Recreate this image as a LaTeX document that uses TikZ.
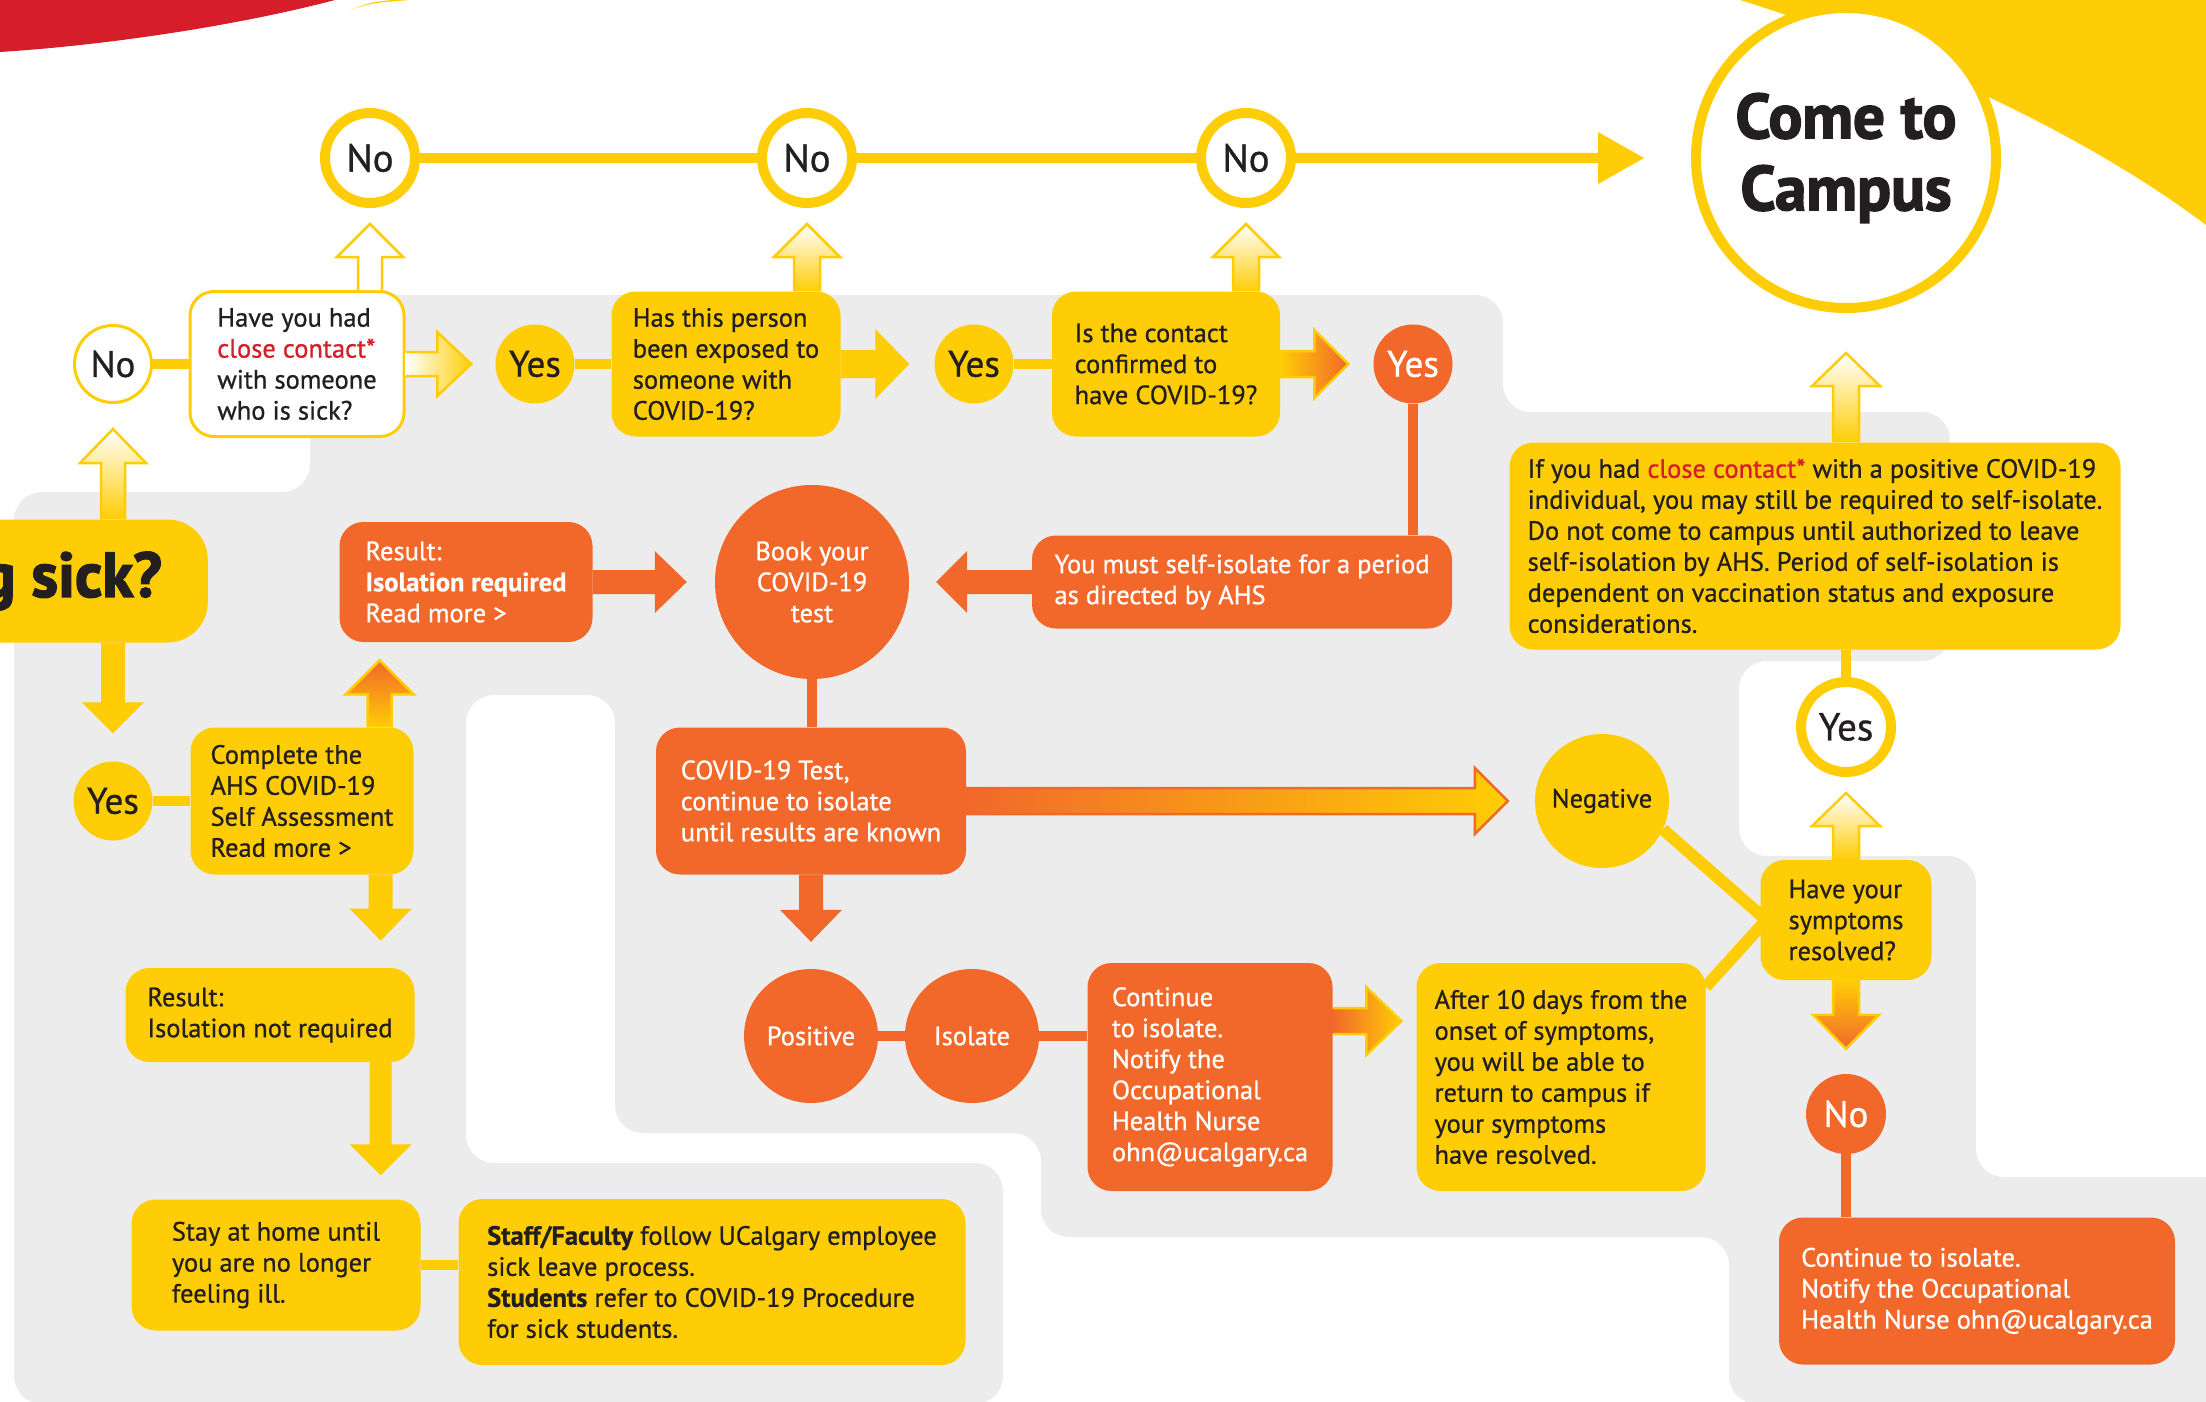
\documentclass[tikz,border=0pt]{standalone}
\usepackage{fontspec}
\setmainfont[FakeBold=0.8]{PT Sans}
\newfontfamily\heavyfont[FakeBold=2.5]{PT Sans}
\usetikzlibrary{calc}
\definecolor{cyellow}{RGB}{255,205,5}
\definecolor{corange}{RGB}{241,104,42}
\definecolor{cred}{RGB}{213,30,42}
\definecolor{cgray}{RGB}{236,236,236}
\definecolor{cdark}{RGB}{35,31,32}
\newcommand{\fatarrow}[6][]{%
    \coordinate (fa-h) at ($(#3)!#6!(#2)$);
    \path[#1] ($(#2)!#4!90:(#3)$) -- ($(fa-h)!#4!90:(#3)$) -- ($(fa-h)!#5!90:(#3)$)
        -- (#3) -- ($(fa-h)!#5!-90:(#3)$) -- ($(fa-h)!#4!-90:(#3)$) -- ($(#2)!#4!-90:(#3)$);}

\begin{document}
\begin{tikzpicture}[x=1pt,y=-1pt]
        \tikzset{card/.style={rounded corners=24pt, align=left, inner sep=0pt,
                font=\fontsize{26.5}{31}\selectfont},
            ycard/.style={card, fill=cyellow, text=cdark},
            ocard/.style={card, fill=corange, text=white},
            wcard/.style={card, fill=white, draw=cyellow, line width=3pt, text=cdark},
            disc/.style={circle, inner sep=0pt, align=center, font=\fontsize{37}{40}\selectfont},
            ydisc/.style={disc, fill=cyellow, text=cdark},
            odisc/.style={disc, fill=corange, text=white},
            wdisc/.style={disc, fill=white, draw=cyellow, line width=3pt, text=cdark},
            rdisc/.style={disc, fill=white, draw=cyellow, line width=10pt, text=cdark,
                font=\fontsize{39}{40}\selectfont},
            label text/.style={font=\fontsize{26.5}{31}\selectfont},
            big text/.style={font=\fontsize{63}{72}\selectfont\heavyfont\bfseries},
            yline/.style={draw=cyellow, line width=10pt},
            oline/.style={draw=corange, line width=10pt},
            solidy/.style={fill=cyellow},
            solido/.style={fill=corange},
            hollowy/.style={fill=white, draw=cyellow, line width=2.5pt},
            fadeup/.style={top color=white, bottom color=cyellow, draw=cyellow, line width=2.5pt},
            faderight/.style={left color=white, right color=cyellow, draw=cyellow, line width=2.5pt},
            yoright/.style={left color=cyellow, right color=corange, draw=cyellow, line width=2.5pt},
            oyright/.style={left color=corange, right color=cyellow, draw=corange, line width=2.5pt},
            oyrighty/.style={left color=corange, right color=cyellow, draw=cyellow, line width=2.5pt},
            oyup/.style={top color=corange, bottom color=cyellow, draw=cyellow, line width=2.5pt},
            yodown/.style={top color=cyellow, bottom color=corange, draw=cyellow, line width=2.5pt}}
        \useasboundingbox (0,0) rectangle (2206,1402);
        \fill[cgray, rounded corners=28pt] (310,295) -- (1503,295) -- (1503,412) -- (1950,412)
            -- (1950,661) -- (1739,661) -- (1739,856) -- (1976,856) -- (1976,1177) -- (2250,1177)
            -- (2250,1404) -- (1729,1404) -- (1729,1237) -- (1041,1237) -- (1041,1133) -- (615,1133)
            -- (615,695) -- (466,695) -- (466,1163) -- (1003,1163) -- (1003,1404) -- (14,1404)
            -- (14,492) -- (310,492) -- cycle;
        \fill[cred] (0,0) -- (0,52) .. controls (110,45) and (240,25) .. (335,0) -- cycle;
        \fill[cyellow] (350,10) .. controls (372,3) .. (410,0) -- (392,0) .. controls (372,2) .. (350,10) -- cycle;
        \fill[cyellow] (1740,0) .. controls (1900,50) and (2080,130) .. (2206,225) -- (2206,0) -- cycle;

        \node[wdisc, minimum size=77pt] (nL) at (113,364) {No};
        \node[wcard, minimum width=214pt, minimum height=145pt] (q1) at (297,364)
            {Have you had\\ \textcolor{cred}{close contact*}\\ with someone\\ who is sick?};
        \node[ydisc, minimum size=79pt] (y1) at (535,364) {Yes};
        \node[ycard, minimum width=229pt, minimum height=145pt] (q2) at (726,364)
            {Has this person\\ been exposed to\\ someone with\\ COVID-19?};
        \node[ydisc, minimum size=79pt] (y2) at (974,364) {Yes};
        \node[ycard, minimum width=228pt, minimum height=145pt] (q3) at (1166,364)
            {Is the contact\\ confirmed to\\ have COVID-19?};
        \node[odisc, minimum size=79pt] (y3) at (1413,364) {Yes};
        \node[rdisc, minimum size=90pt] (n1) at (370,158) {No};
        \node[rdisc, minimum size=90pt] (n2) at (807,158) {No};
        \node[rdisc, minimum size=90pt] (n3) at (1246,158) {No};
        \node[rdisc, minimum size=300pt, big text] (campus) at (1846,158) {Come to\\ Campus};
        \node[ycard, rounded corners=40pt, anchor=east, minimum height=123pt, inner xsep=46pt,
            big text] (sick) at (208,581) {g sick?};
        \node[ocard, minimum width=253pt, minimum height=120pt] (res) at (466,582)
            {Result:\\ \textbf{Isolation required}\\ Read more >};
        \node[odisc, label text, minimum size=194pt] (book) at (812,582) {Book your\\ COVID-19\\ test};
        \node[ocard, minimum width=420pt, minimum height=93pt] (must) at (1242,582)
            {You must self-isolate for a period\\ as directed by AHS};
        \node[ydisc, minimum size=79pt] (yL) at (113,801) {Yes};
        \node[ycard, minimum width=223pt, minimum height=147pt] (cmp) at (302,801)
            {Complete the\\ AHS COVID-19\\ Self Assessment\\ Read more >};
        \node[ocard, minimum width=310pt, minimum height=147pt] (test) at (811,801)
            {COVID-19 Test,\\ continue to isolate\\ until results are known};
        \node[ydisc, label text, minimum size=134pt] (neg) at (1602,801) {Negative};
        \node[ycard, minimum width=289pt, minimum height=94pt] (notreq) at (270,1015)
            {Result:\\ Isolation not required};
        \node[ycard, minimum width=289pt, minimum height=131pt] (stay) at (276,1265)
            {Stay at home until\\ you are no longer\\ feeling ill.};
        \node[ycard, minimum width=507pt, minimum height=166pt] (staff) at (712,1282)
            {\textbf{Staff/Faculty} follow UCalgary employee\\ sick leave process.\\
             \textbf{Students} refer to COVID-19 Procedure\\ for sick students.};
        \node[odisc, label text, minimum size=134pt] (pos) at (811,1036) {Positive};
        \node[odisc, label text, minimum size=134pt] (iso) at (972,1036) {Isolate};
        \node[ocard, minimum width=245pt, minimum height=228pt] (cont) at (1210,1077)
            {Continue\\ to isolate.\\ Notify the\\ Occupational\\ Health Nurse\\ ohn@ucalgary.ca};
        \node[ycard, minimum width=289pt, minimum height=228pt] (after) at (1561,1077)
            {After 10 days from the\\ onset of symptoms,\\ you will be able to\\ return to campus if\\ your symptoms\\ have resolved.};
        \node[ycard, minimum width=171pt, minimum height=120pt] (sym) at (1846,920)
            {Have your\\ symptoms\\ resolved?};
        \node[rdisc, minimum size=90pt] (yR) at (1846,727) {Yes};
        \node[ycard, minimum width=611pt, minimum height=207pt] (ifhad) at (1815,546)
            {If you had \textcolor{cred}{close contact*} with a positive COVID-19\\
             individual, you may still be required to self-isolate.\\
             Do not come to campus until authorized to leave\\
             self-isolation by AHS. Period of self-isolation is\\
             dependent on vaccination status and exposure\\ considerations.};
        \node[odisc, minimum size=80pt] (noR) at (1846,1114) {No};
        \node[ocard, minimum width=396pt, minimum height=147pt] (cont2) at (1977,1291)
            {Continue to isolate.\\ Notify the Occupational\\ Health Nurse ohn@ucalgary.ca};

        \coordinate (a-out) at ($(after.north east)+(0,24)$);
        \coordinate (s-in) at ($(sym.west)+(6,0)$);
        \draw[yline] (nL) -- (q1) (y1) -- (q2) (y2) -- (q3) (yL) -- (cmp) (n1) -- (n2) (n2) -- (n3);
        \draw[yline] (stay.east) -- (stay.east -| staff.west);
        \draw[yline] (ifhad.south -| yR) -- (yR);
        \draw[yline, line width=12pt] (neg.-25) -- (s-in) (a-out) -- (s-in);
        \draw[oline] (y3) -- (y3 |- must.north);
        \draw[oline] (book) -- (book |- test.north);
        \draw[oline] (pos) -- (iso) (iso) -- (iso -| cont.west);
        \draw[oline] (noR) -- (noR |- cont2.north);

        \coordinate (t1) at ($(y1.west)+(-24,0)$);
        \coordinate (t2) at ($(y2.west)+(-25,0)$);
        \coordinate (t3) at ($(y3.west)+(-25,0)$);
        \coordinate (s4) at (q1.north -| n1);
        \coordinate (t4) at ($(n1.south)+(0,16)$);
        \coordinate (s5) at (q2.north -| n2);
        \coordinate (t5) at ($(n2.south)+(0,16)$);
        \coordinate (s6) at (q3.north -| n3);
        \coordinate (t6) at ($(n3.south)+(0,16)$);
        \coordinate (t7) at ($(campus.west)+(-47,0)$);
        \coordinate (s8) at (sick.north -| nL);
        \coordinate (t8) at ($(nL.south)+(0,25)$);
        \coordinate (s9) at (sick.south -| yL);
        \coordinate (t9) at ($(yL.north)+(0,-28)$);
        \coordinate (s10) at ($(cmp.north east)+(-34,0)$);
        \coordinate (t10) at ($(s10)+(0,-67)$);
        \coordinate (t11) at ($(book.west)+(-28,0)$);
        \coordinate (s12) at ($(cmp.south east)+(-33,0)$);
        \coordinate (t12) at ($(s12)+(0,66)$);
        \coordinate (s13) at ($(notreq.south east)+(-34,0)$);
        \coordinate (t13) at ($(stay.north -| s13)+(0,-24)$);
        \coordinate (t14) at ($(book.east)+(27,0)$);
        \coordinate (t15) at ($(neg.west)+(-27,0)$);
        \coordinate (t16) at ($(pos.north)+(0,-27)$);
        \coordinate (s17) at ($(cont.east)+(0,-56)$);
        \coordinate (t17) at ($(after.west |- s17)+(-15,0)$);
        \coordinate (t18) at ($(yR.south)+(0,16)$);
        \coordinate (t19) at ($(noR.north)+(0,-25)$);
        \coordinate (s20) at (ifhad.north -| campus);
        \coordinate (t20) at ($(campus.south)+(0,40)$);

        \fatarrow[faderight]{q1.east}{t1}{12pt}{32pt}{34pt}
        \fatarrow[solidy]{q2.east}{t2}{14pt}{35pt}{34pt}
        \fatarrow[yoright]{q3.east}{t3}{13pt}{34pt}{34pt}
        \fatarrow[hollowy]{s4}{t4}{12pt}{33pt}{33pt}
        \fatarrow[fadeup]{s5}{t5}{13pt}{33pt}{33pt}
        \fatarrow[fadeup]{s6}{t6}{13pt}{33pt}{33pt}
        \fatarrow[solidy]{n3.east}{t7}{5pt}{26pt}{46pt}
        \fatarrow[fadeup]{s8}{t8}{12pt}{33pt}{34pt}
        \fatarrow[solidy]{s9}{t9}{12pt}{31pt}{31pt}
        \fatarrow[oyup]{s10}{t10}{12pt}{34pt}{34pt}
        \fatarrow[solido]{res.east}{t11}{12pt}{31pt}{32pt}
        \fatarrow[solidy]{s12}{t12}{12pt}{31pt}{32pt}
        \fatarrow[solidy]{s13}{t13}{11pt}{31pt}{31pt}
        \fatarrow[solido]{must.west}{t14}{12pt}{31pt}{31pt}
        \fatarrow[oyright]{test.east}{t15}{13pt}{33pt}{33pt}
        \fatarrow[solido]{test.south}{t16}{12pt}{31pt}{32pt}
        \fatarrow[oyrighty]{s17}{t17}{13pt}{34pt}{35pt}
        \fatarrow[fadeup]{sym.north}{t18}{13pt}{34pt}{33pt}
        \fatarrow[yodown]{sym.south}{t19}{13pt}{33pt}{34pt}
        \fatarrow[fadeup]{s20}{t20}{13pt}{34pt}{33pt}
    \end{tikzpicture}
\end{document}
